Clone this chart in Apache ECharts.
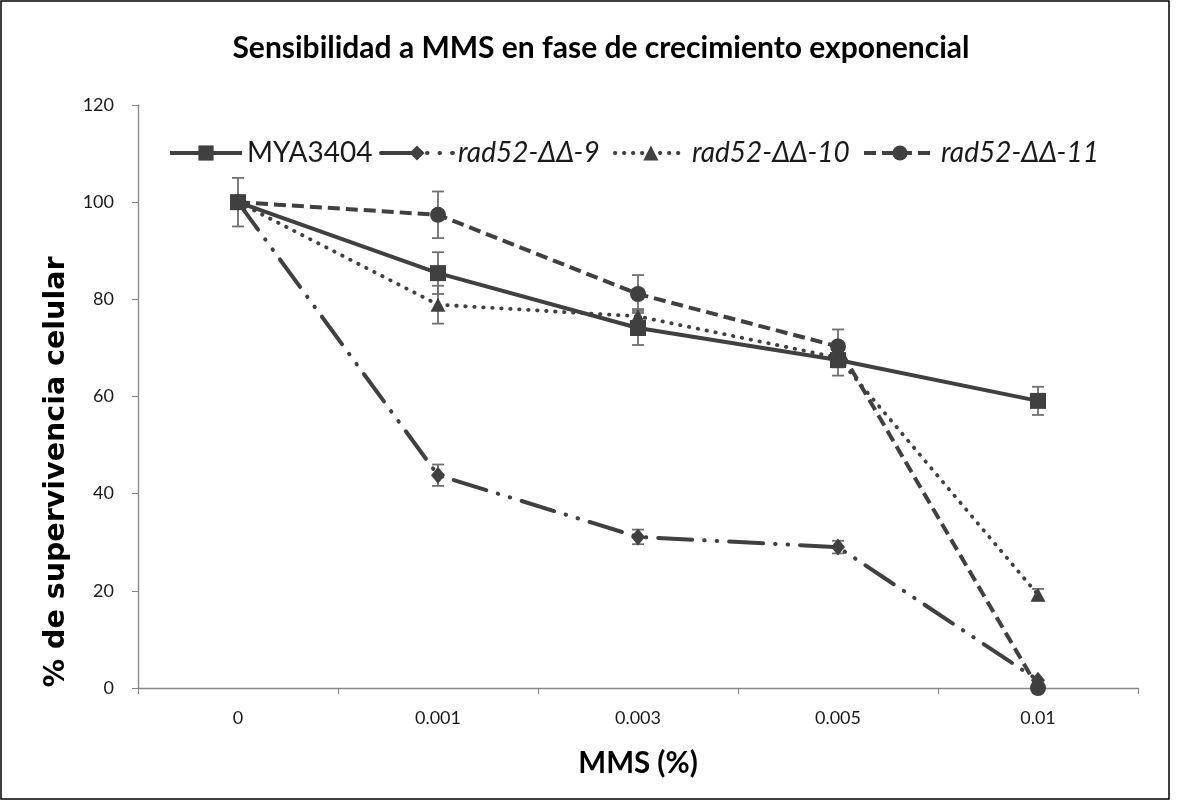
<!DOCTYPE html>
<html><head><meta charset="utf-8">
<script src="https://cdn.jsdelivr.net/npm/echarts@6/dist/echarts.min.js"></script>
<style>html,body{margin:0;padding:0;background:#fff}#c{width:1178px;height:805px}</style>
</head><body><div id="c"></div>
<script>
const categories = ['0', '0.001', '0.003', '0.005', '0.01'];
const seriesNames = ['MYA3404', 'rad52-ΔΔ-9', 'rad52-ΔΔ-10', 'rad52-ΔΔ-11'];
const mya = [100, 85.4, 74.1, 67.5, 59.1];
const myaErr = [5, 4.3, 3.5, 3.2, 2.9];
const rad9 = [100, 43.8, 31.1, 29.0, 1.6];
const rad9Err = [0, 2.2, 1.5, 1.3, 0];
const rad10 = [100, 78.9, 76.5, 68.0, 19.2];
const rad10Err = [0, 3.9, 1.5, 2.0, 1.2];
const rad11 = [100, 97.4, 81.1, 70.3, 0];
const rad11Err = [0, 4.8, 3.9, 3.5, 0];
const titleText = 'Sensibilidad a MMS en fase de crecimiento exponencial';
const xTitle = 'MMS (%)';
const yTitle = '% de supervivencia celular';

const FONT = 'Lato';
const DARK = '#404040';
const ERRC = '#707070';

const allVals = [mya, rad9, rad10, rad11];
const allErr = [myaErr, rad9Err, rad10Err, rad11Err];
const errData = [];
allVals.forEach((vals, s) => {
  vals.forEach((v, i) => {
    const e = allErr[s][i];
    if (e > 0) errData.push([i, v - e, v + e]);
  });
});

function renderErr(params, api) {
  const x = api.value(0);
  const pLo = api.coord([x, api.value(1)]);
  const pHi = api.coord([x, api.value(2)]);
  const w = 6;
  const style = { stroke: ERRC, lineWidth: 1.8, fill: null };
  return {
    type: 'group', children: [
      { type: 'line', shape: { x1: pHi[0], y1: pHi[1], x2: pLo[0], y2: pLo[1] }, style },
      { type: 'line', shape: { x1: pHi[0] - w, y1: pHi[1], x2: pHi[0] + w, y2: pHi[1] }, style },
      { type: 'line', shape: { x1: pLo[0] - w, y1: pLo[1], x2: pLo[0] + w, y2: pLo[1] }, style }
    ]
  };
}

const lineDefs = [
  { data: mya, symbol: 'rect', size: 16, ls: { type: 'solid', width: 4 } },
  { data: rad9, symbol: 'diamond', size: [14, 17], ls: { type: [34, 12, 0.5, 12, 0.5, 12], width: 4, cap: 'round' } },
  { data: rad10, symbol: 'triangle', size: [15, 14], ls: { type: [0.5, 8.5], width: 3.8, cap: 'round' } },
  { data: rad11, symbol: 'circle', size: 16, ls: { type: [12, 6], width: 4 } }
];

const series = lineDefs.map((d, k) => ({
  name: seriesNames[k],
  type: 'line',
  data: d.data,
  symbol: d.symbol,
  symbolSize: d.size,
  showAllSymbol: true,
  z: 3,
  itemStyle: { color: DARK, borderWidth: 0 },
  lineStyle: Object.assign({ color: DARK }, d.ls),
  animation: false
}));
series.unshift({
  name: 'err', type: 'custom', data: errData, renderItem: renderErr,
  encode: { x: 0, y: [1, 2] }, z: 1, animation: false, silent: true
});

const legendLefts = [168, 379, 613, 862];
const legends = seriesNames.map((n, k) => ({
  left: legendLefts[k], top: 139, padding: 0,
  itemWidth: 72, itemHeight: 19, itemGap: 0,
  data: [{ name: n, textStyle: { fontStyle: k === 0 ? 'normal' : 'italic' } }],
  lineStyle: { width: lineDefs[k].ls.width },
  textStyle: { fontFamily: FONT, fontSize: 28, color: '#1a1a1a' },
  selectedMode: false
}));

const chart = echarts.init(document.getElementById('c'), null, { renderer: 'canvas' });
chart.setOption({
  animation: false,
  backgroundColor: '#fff',
  grid: { left: 138, right: 40, top: 105, bottom: 117, containLabel: false },
  legend: legends,
  xAxis: {
    type: 'category', data: categories, boundaryGap: true,
    axisLine: { lineStyle: { color: '#868686', width: 1.3 } },
    axisTick: { show: true, length: 6, lineStyle: { color: '#868686' } },
    axisLabel: { fontFamily: FONT, fontSize: 18, color: '#1a1a1a', margin: 21 }
  },
  yAxis: {
    type: 'value', min: 0, max: 120, interval: 20,
    axisLine: { show: true, lineStyle: { color: '#868686', width: 1.3 } },
    axisTick: { show: true, length: 6, lineStyle: { color: '#868686' } },
    splitLine: { show: false },
    axisLabel: { fontFamily: FONT, fontSize: 18, color: '#1a1a1a', margin: 24 }
  },
  graphic: [
    { type: 'rect', shape: { x: 1, y: 1, width: 1168, height: 798 }, style: { fill: null, stroke: '#000', lineWidth: 1.5 }, silent: true },
    { type: 'text', x: 601, y: 48, style: { text: titleText, fontFamily: FONT, fontWeight: 'bold', fontSize: 30, fill: '#000', textAlign: 'center', textVerticalAlign: 'middle' } },
    { type: 'text', x: 638, y: 763, style: { text: xTitle, fontFamily: FONT, fontWeight: 'bold', fontSize: 29.5, fill: '#000', textAlign: 'center', textVerticalAlign: 'middle' } },
    { type: 'text', x: 57, y: 472, rotation: Math.PI / 2, style: { text: yTitle, fontFamily: 'DejaVu Sans', fontWeight: 'bold', fontSize: 28.5, fill: '#000', textAlign: 'center', textVerticalAlign: 'middle' } }
  ],
  series: series
});
</script></body></html>
